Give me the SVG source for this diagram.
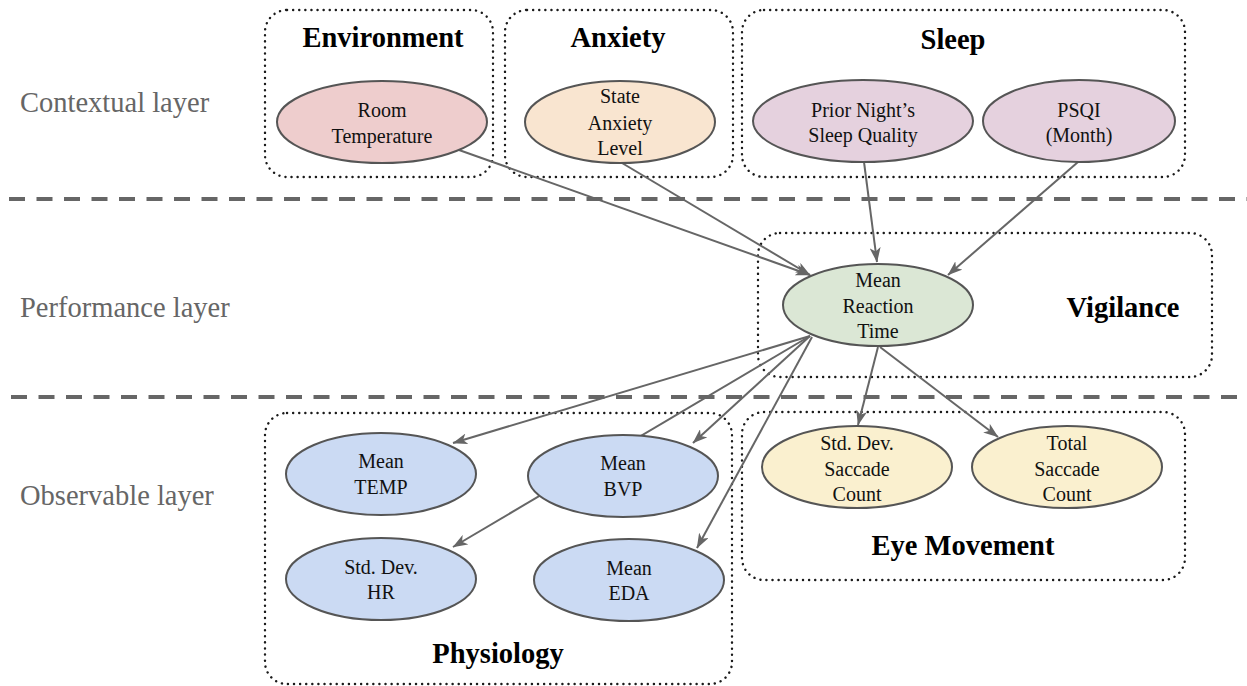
<svg xmlns="http://www.w3.org/2000/svg" width="1247" height="686" viewBox="0 0 1247 686">
  <style>
    .layer { font-family: "Liberation Serif", "Times New Roman", serif; font-size: 28.5px; fill: #666666; }
    .title { font-family: "Liberation Serif", "Times New Roman", serif; font-size: 28.5px; font-weight: bold; fill: #000000; text-anchor: middle; }
    .label { font-family: "Liberation Serif", "Times New Roman", serif; font-size: 20px; fill: #111111; text-anchor: middle; }
    .group { fill: none; stroke: #1a1a1a; stroke-width: 2.4; stroke-dasharray: 0.1 6; stroke-linecap: round; }
    .divider { stroke: #666666; stroke-width: 4; stroke-dasharray: 16 11.5; }
    .node { stroke: #555555; stroke-width: 2; }
    .edge { stroke: #666666; stroke-width: 2; fill: none; marker-end: url(#arrow); }
    .red { fill: #eecdcd; }
    .orange { fill: #f9e5d0; }
    .purple { fill: #e5d1de; }
    .green { fill: #dbe7d5; }
    .blue { fill: #cbdaf3; }
    .yellow { fill: #faf0cf; }
  </style>
  <defs>
    <marker id="arrow" viewBox="0 0 15 11" refX="14.5" refY="5.5" markerWidth="15" markerHeight="11" markerUnits="userSpaceOnUse" orient="auto">
      <path d="M0,0 L15,5.5 L0,11 L4,5.5 Z" fill="#666666"/>
    </marker>
  </defs>

  <rect width="1247" height="686" fill="#ffffff"/>

  <!-- layer dividers -->
  <g id="dividers">
    <line class="divider" x1="9" y1="199" x2="1247" y2="199"/>
    <line class="divider" x1="11" y1="397" x2="1247" y2="397"/>
  </g>

  <!-- layer labels -->
  <g id="layer-labels">
    <text class="layer" x="20" y="112">Contextual layer</text>
    <text class="layer" x="20" y="317">Performance layer</text>
    <text class="layer" x="20" y="505">Observable layer</text>
  </g>

  <!-- dotted groups -->
  <g id="group-environment">
    <rect class="group" x="265" y="10" width="228" height="167" rx="22"/>
    <text class="title" x="383" y="47">Environment</text>
  </g>
  <g id="group-anxiety">
    <rect class="group" x="505" y="10" width="228" height="167" rx="22"/>
    <text class="title" x="618" y="47">Anxiety</text>
  </g>
  <g id="group-sleep">
    <rect class="group" x="742" y="10" width="443" height="167" rx="22"/>
    <text class="title" x="953" y="49">Sleep</text>
  </g>
  <g id="group-vigilance">
    <rect class="group" x="758" y="233" width="454" height="144" rx="22"/>
    <text class="title" x="1123" y="317">Vigilance</text>
  </g>
  <g id="group-physiology">
    <rect class="group" x="265" y="413" width="467" height="271" rx="22"/>
    <text class="title" x="498" y="663">Physiology</text>
  </g>
  <g id="group-eye-movement">
    <rect class="group" x="742" y="412" width="443" height="168" rx="22"/>
    <text class="title" x="963" y="555">Eye Movement</text>
  </g>

  <!-- connectors -->
  <g id="connectors">
    <line class="edge" x1="459" y1="150" x2="810" y2="275"/>
    <line class="edge" x1="622" y1="163" x2="810" y2="275"/>
    <line class="edge" x1="864" y1="162" x2="877" y2="262"/>
    <line class="edge" x1="1078" y1="162" x2="948" y2="275"/>
    <line class="edge" x1="810" y1="336" x2="453" y2="443"/>
    <line class="edge" x1="810" y1="336" x2="453" y2="547"/>
    <line class="edge" x1="810" y1="336" x2="693" y2="443"/>
    <line class="edge" x1="812" y1="337" x2="697" y2="548"/>
    <line class="edge" x1="878" y1="347" x2="858" y2="425"/>
    <line class="edge" x1="880" y1="347" x2="998" y2="437"/>
  </g>

  <!-- nodes -->
  <g id="room-temperature">
    <ellipse class="node red" cx="382" cy="122" rx="105" ry="41"/>
    <text class="label" x="382" y="117">Room</text>
    <text class="label" x="382" y="143">Temperature</text>
  </g>
  <g id="state-anxiety-level">
    <ellipse class="node orange" cx="620" cy="122" rx="95" ry="41"/>
    <text class="label" x="620" y="103">State</text>
    <text class="label" x="620" y="130">Anxiety</text>
    <text class="label" x="620" y="155">Level</text>
  </g>
  <g id="prior-night-sleep-quality">
    <ellipse class="node purple" cx="863" cy="121" rx="110" ry="41"/>
    <text class="label" x="863" y="117">Prior Night’s</text>
    <text class="label" x="863" y="142">Sleep Quality</text>
  </g>
  <g id="psqi-month">
    <ellipse class="node purple" cx="1079" cy="121" rx="96" ry="41"/>
    <text class="label" x="1079" y="117">PSQI</text>
    <text class="label" x="1079" y="142">(Month)</text>
  </g>
  <g id="mean-reaction-time">
    <ellipse class="node green" cx="878" cy="305" rx="95" ry="41"/>
    <text class="label" x="878" y="287">Mean</text>
    <text class="label" x="878" y="313">Reaction</text>
    <text class="label" x="878" y="338">Time</text>
  </g>
  <g id="mean-temp">
    <ellipse class="node blue" cx="381" cy="474" rx="95" ry="41"/>
    <text class="label" x="381" y="468">Mean</text>
    <text class="label" x="381" y="494">TEMP</text>
  </g>
  <g id="mean-bvp">
    <ellipse class="node blue" cx="623" cy="476" rx="95" ry="41"/>
    <text class="label" x="623" y="470">Mean</text>
    <text class="label" x="623" y="496">BVP</text>
  </g>
  <g id="std-dev-hr">
    <ellipse class="node blue" cx="381" cy="579" rx="95" ry="41"/>
    <text class="label" x="381" y="574">Std. Dev.</text>
    <text class="label" x="381" y="599">HR</text>
  </g>
  <g id="mean-eda">
    <ellipse class="node blue" cx="629" cy="580" rx="95" ry="41"/>
    <text class="label" x="629" y="575">Mean</text>
    <text class="label" x="629" y="600">EDA</text>
  </g>
  <g id="std-dev-saccade-count">
    <ellipse class="node yellow" cx="857" cy="467" rx="95" ry="41"/>
    <text class="label" x="857" y="450">Std. Dev.</text>
    <text class="label" x="857" y="476">Saccade</text>
    <text class="label" x="857" y="501">Count</text>
  </g>
  <g id="total-saccade-count">
    <ellipse class="node yellow" cx="1067" cy="467" rx="95" ry="41"/>
    <text class="label" x="1067" y="450">Total</text>
    <text class="label" x="1067" y="476">Saccade</text>
    <text class="label" x="1067" y="501">Count</text>
  </g>
</svg>
